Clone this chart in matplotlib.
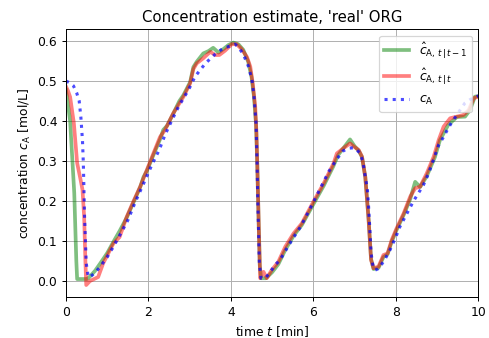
import matplotlib
matplotlib.use("Agg")
import matplotlib.pyplot as plt

# true concentration c_A
t_true = [0, 0.1, 0.18, 0.26, 0.32, 0.36, 0.40, 0.42, 0.45, 0.49, 0.54, 0.6, 0.7, 0.83, 1.0,
          1.15, 1.35, 1.5, 1.67, 1.92, 2.08, 2.26, 2.4, 2.57, 2.73, 2.85, 2.97, 3.13, 3.25, 3.37,
          3.51, 3.66, 3.82, 4.0, 4.1, 4.18, 4.3, 4.42, 4.51, 4.56, 4.61, 4.635, 4.65, 4.67, 4.69,
          4.73, 4.83, 4.93, 5.07, 5.19, 5.32, 5.48, 5.68, 5.88, 6.04, 6.2, 6.37, 6.57, 6.72, 6.85,
          6.97, 7.05, 7.12, 7.2, 7.26, 7.31, 7.34, 7.37, 7.40, 7.45, 7.5, 7.56, 7.62, 7.74, 7.86,
          8.0, 8.1, 8.25, 8.43, 8.55, 8.67, 8.8, 8.92, 9.04, 9.14, 9.24, 9.34, 9.44, 9.55, 9.67,
          9.81, 9.9, 10.0]
c_true = [0.500, 0.495, 0.488, 0.47, 0.45, 0.41, 0.35, 0.295, 0.16, 0.045, 0.01, 0.012, 0.02, 0.036, 0.06,
          0.086, 0.123, 0.152, 0.195, 0.2525, 0.29, 0.3275, 0.365, 0.4025, 0.436, 0.457, 0.4775, 0.511, 0.527, 0.5425,
          0.557, 0.571, 0.582, 0.588, 0.592, 0.585, 0.567, 0.538, 0.503, 0.461, 0.394, 0.294, 0.21, 0.1275, 0.044,
          0.007, 0.007, 0.019, 0.04, 0.0525, 0.075, 0.1025, 0.134, 0.173, 0.205, 0.238, 0.273, 0.305, 0.325, 0.332,
          0.333, 0.328, 0.321, 0.30, 0.26, 0.23, 0.186, 0.13, 0.07, 0.035, 0.0275, 0.03, 0.036, 0.055, 0.078,
          0.11, 0.136, 0.165, 0.2, 0.22, 0.24, 0.27, 0.305, 0.34, 0.357, 0.376, 0.394, 0.409, 0.426, 0.444,
          0.454, 0.458, 0.463]

# prior estimate c_hat_{A,t|t-1}
t_prior = [0, 0.1, 0.2, 0.25, 0.27, 0.5, 0.54, 0.7, 0.83, 1.0, 1.15, 1.3, 1.47, 1.63, 1.8,
           1.88, 1.96, 2.12, 2.28, 2.36, 2.45, 2.6, 2.75, 2.85, 3.01, 3.09, 3.17, 3.33, 3.46, 3.57,
           3.7, 3.82, 3.94, 4.06, 4.18, 4.3, 4.42, 4.5, 4.56, 4.61, 4.64, 4.67, 4.7, 4.73, 4.85,
           5.0, 5.15, 5.32, 5.52, 5.72, 6.0, 6.25, 6.49, 6.6, 6.75, 6.89, 7.0, 7.1, 7.18, 7.26,
           7.34, 7.40, 7.46, 7.58, 7.70, 7.8, 7.9, 8.02, 8.19, 8.35, 8.47, 8.59, 8.75, 8.95, 9.07,
           9.27, 9.48, 9.68, 9.8, 9.92, 10.0]
c_prior = [0.478, 0.40, 0.22, 0.05, 0.005, 0.005, 0.007, 0.025, 0.044, 0.07, 0.098, 0.125, 0.158, 0.195, 0.235,
           0.26, 0.275, 0.315, 0.354, 0.378, 0.388, 0.418, 0.45, 0.465, 0.497, 0.535, 0.548, 0.569, 0.575, 0.583,
           0.571, 0.58, 0.59, 0.596, 0.592, 0.578, 0.548, 0.51, 0.46, 0.39, 0.29, 0.16, 0.04, 0.007, 0.007,
           0.022, 0.042, 0.078, 0.113, 0.14, 0.192, 0.238, 0.288, 0.315, 0.335, 0.354, 0.337, 0.326, 0.31, 0.26,
           0.155, 0.055, 0.03, 0.033, 0.06, 0.067, 0.098, 0.128, 0.165, 0.205, 0.248, 0.235, 0.262, 0.31, 0.352,
           0.39, 0.41, 0.411, 0.4275, 0.461, 0.462]

# posterior estimate c_hat_{A,t|t}
t_post = [0, 0.05, 0.1, 0.19, 0.27, 0.35, 0.4, 0.44, 0.47, 0.49, 0.58, 0.78, 0.9, 1.15, 1.3,
          1.47, 1.63, 1.8, 1.96, 2.12, 2.28, 2.4, 2.6, 2.85, 3.01, 3.09, 3.17, 3.33, 3.5, 3.62,
          3.72, 3.86, 4.02, 4.14, 4.26, 4.39, 4.47, 4.53, 4.59, 4.62, 4.65, 4.68, 4.71, 4.79, 4.87,
          4.99, 5.15, 5.32, 5.52, 5.72, 6.0, 6.25, 6.49, 6.57, 6.73, 6.89, 7.0, 7.1, 7.18, 7.26,
          7.34, 7.40, 7.46, 7.58, 7.70, 7.8, 7.9, 8.02, 8.19, 8.35, 8.47, 8.59, 8.75, 8.92, 9.04,
          9.16, 9.32, 9.48, 9.64, 9.77, 9.89, 10.0]
c_post = [0.486, 0.475, 0.46, 0.395, 0.295, 0.255, 0.228, 0.16, 0.05, -0.01, 0.0, 0.01, 0.044, 0.094, 0.11,
          0.16, 0.198, 0.236, 0.2775, 0.319, 0.36, 0.3775, 0.419, 0.461, 0.494, 0.53, 0.544, 0.557, 0.573, 0.565,
          0.565, 0.576, 0.592, 0.592, 0.58, 0.56, 0.536, 0.494, 0.436, 0.37, 0.25, 0.12, 0.007, 0.023, 0.007,
          0.0275, 0.048, 0.086, 0.119, 0.144, 0.198, 0.244, 0.294, 0.319, 0.332, 0.344, 0.335, 0.3275, 0.311, 0.26,
          0.1525, 0.0525, 0.032, 0.036, 0.065, 0.069, 0.1025, 0.132, 0.169, 0.211, 0.232, 0.236, 0.269, 0.311, 0.3525,
          0.386, 0.407, 0.411, 0.415, 0.4275, 0.457, 0.461]

DPI = 88.9
fig = plt.figure(figsize=(489 / DPI, 338 / DPI), dpi=DPI)
ax = fig.add_axes([0.135, 0.12, 0.843, 0.793])

ax.plot(t_prior, c_prior, color='g', alpha=0.5, lw=3, label=r'$\hat{c}_{\mathrm{A},\,t\,|\,t-1}$')
ax.plot(t_post, c_post, color='r', alpha=0.5, lw=3, label=r'$\hat{c}_{\mathrm{A},\,t\,|\,t}$')
ax.plot(t_true, c_true, color='b', alpha=0.7, lw=2.5, ls=':', label=r'$c_\mathrm{A}$')

ax.set_xlim(0, 10)
ax.set_ylim(-0.041, 0.629)
ax.set_xticks([0, 2, 4, 6, 8, 10])
ax.set_yticks([0.0, 0.1, 0.2, 0.3, 0.4, 0.5, 0.6])
ax.grid(True)
ax.set_xlabel(r'time $t$ [min]')
ax.set_ylabel(r'concentration $c_\mathrm{A}$ [mol/L]')
ax.set_title("Concentration estimate, 'real' ORG")
ax.legend(loc='upper right')

fig.savefig('out.png', dpi=DPI)
